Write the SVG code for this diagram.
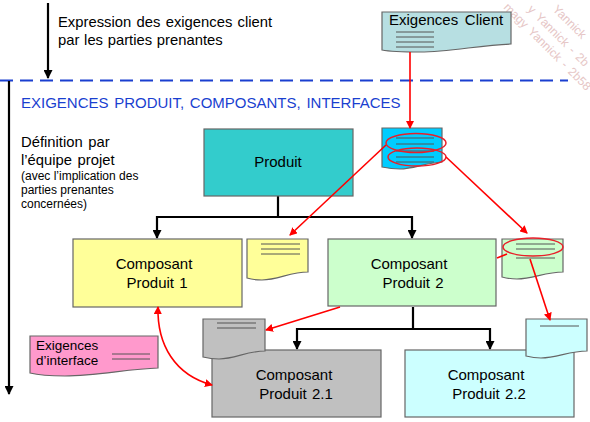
<svg xmlns="http://www.w3.org/2000/svg" width="590" height="422" viewBox="0 0 590 422">
<style>
text{font-family:"Liberation Sans",Arial,sans-serif;fill:#000}
.t{font-size:15px;text-anchor:middle;word-spacing:1px}
.b{stroke:#666;stroke-width:1.2}
.l{stroke:#555;stroke-width:1;fill:none}
.r{stroke:#f00;stroke-width:1.6;fill:none}
.k{stroke:#000;stroke-width:2.200;fill:none}
.o{stroke:#e8202a;stroke-width:1.5;fill:none}
.w{font-size:12px;word-spacing:2px;fill:#e6c6c6}
</style>
<defs>
<marker id="ra" markerUnits="userSpaceOnUse" markerWidth="8" markerHeight="8" refX="7" refY="4" orient="auto"><path d="M0 0L8 4L0 8z" fill="#f00"/></marker>
<marker id="rs" markerUnits="userSpaceOnUse" markerWidth="8" markerHeight="8" refX="7" refY="4" orient="auto-start-reverse"><path d="M0 0L8 4L0 8z" fill="#f00"/></marker>
<marker id="ka" markerUnits="userSpaceOnUse" markerWidth="9" markerHeight="9" refX="8" refY="4.5" orient="auto"><path d="M0 0L9 4.500L0 9z" fill="#000"/></marker>
</defs>
<g id="watermark">
<text class="w" transform="translate(503,8) rotate(45)">magy Yannick - 2b58</text>
<text class="w" transform="translate(527,10) rotate(45)">y Yannick - 2b</text>
<text class="w" transform="translate(552,10) rotate(45)">Yannick</text>
</g>
<g id="intro">
<path class="k" d="M48 3V78" marker-end="url(#ka)"/>
<text x="58" y="27" font-size="14.800" word-spacing="1.200">Expression des exigences client</text>
<text x="58" y="45" font-size="14.800" word-spacing="0.600">par les parties prenantes</text>
</g>
<g id="separator"><path d="M0 80.500H568" stroke="#1a3fd0" stroke-width="2.200" stroke-dasharray="13 7" fill="none"/></g>
<g id="phase">
<text x="21" y="108" font-size="15" word-spacing="1.500" style="fill:#1a3fd0">EXIGENCES PRODUIT, COMPOSANTS, INTERFACES</text>
<path class="k" d="M9 81V394" marker-end="url(#ka)"/>
<text x="21" y="147" font-size="14.800" word-spacing="1.500">Définition par</text>
<text x="21" y="165" font-size="14.800" word-spacing="1.500">l’équipe projet</text>
<text x="21" y="180" font-size="12">(avec l’implication des</text>
<text x="21" y="194" font-size="12">parties prenantes</text>
<text x="21" y="208" font-size="12">concernées)</text>
</g>
<g id="connectors-under">
<path class="k" d="M278 196V217H157V238" marker-end="url(#ka)"/>
<path class="k" d="M278 217H412V238" marker-end="url(#ka)"/>
<path class="k" d="M413 307V329H297V349" marker-end="url(#ka)"/>
<path class="k" d="M413 329H490V349" marker-end="url(#ka)"/>
</g>
<g id="produit"><rect class="b" x="204" y="129" width="149" height="67" fill="#33cccc"/><text class="t" x="278" y="167">Produit</text></g>
<g id="composant1"><rect class="b" x="73" y="239" width="169" height="68" fill="#ffff99"/><text class="t" x="154" y="269">Composant</text><text class="t" x="157" y="288">Produit 1</text></g>
<g id="composant2"><rect class="b" x="328" y="239" width="168" height="67" fill="#ccffcc"/><text class="t" x="409" y="269">Composant</text><text class="t" x="413" y="288">Produit 2</text></g>
<g id="composant21"><rect class="b" x="212" y="350" width="169" height="67" fill="#c0c0c0"/><text class="t" x="294" y="380">Composant</text><text class="t" x="296" y="399">Produit 2.1</text></g>
<g id="composant22"><rect class="b" x="405" y="350" width="169" height="67" fill="#ccffff"/><text class="t" x="486" y="380">Composant</text><text class="t" x="489" y="399">Produit 2.2</text></g>
<g id="doc-client"><path class="b" fill="#b7dfe2" d="M382 12H511V44C480 45 450 52 420 52C405 52 392 52 382 50z"/><text x="389" y="25" font-size="15" word-spacing="2.500">Exigences Client</text><path class="l" d="M396 32H434M396 37H434M396 42H434M396 47H434"/></g>
<g id="doc-produit"><path class="b" fill="#00ccff" d="M382 128H442V162C425 163 413 169 400 169C393 169 387 168 382 167z"/><path class="l" d="M396 138H434M396 144H434M396 151H434M396 157H434M396 162H434"/><ellipse class="o" cx="416" cy="143" rx="30" ry="9.500"/><ellipse class="o" cx="417" cy="157" rx="29" ry="9"/></g>
<g id="doc-c1"><path class="b" fill="#ffff99" d="M247 239H308V272C290 272 278 280 262 280C256 280 250 279 247 278z"/><path class="l" d="M261 244H300M261 249H300M261 254H300"/></g>
<g id="doc-c2"><path class="b" fill="#ccffcc" d="M502 239H563V272C545 272 533 279 517 279C511 279 506 278 502 277z"/><path class="l" d="M516 244H555M516 249H555M516 258H555"/><ellipse class="o" cx="533" cy="247" rx="30" ry="9"/></g>
<g id="doc-c21"><path class="b" fill="#c0c0c0" d="M203 319H265V351C247 351 235 359 219 359C213 359 207 358 203 357z"/><path class="l" d="M217 323H256M217 328H256"/></g>
<g id="doc-c22"><path class="b" fill="#ccffff" d="M526 319H587V351C569 351 557 358 541 358C535 358 530 357 526 356z"/><path class="l" d="M540 326H579"/></g>
<g id="doc-interface"><path class="b" fill="#ff99cc" d="M30 336H158V368C127 369 97 376 65 376C50 376 38 375 30 373z"/><text x="36" y="350" font-size="13.500">Exigences</text><text x="36" y="365" font-size="13.500">d’interface</text><path class="l" d="M112 354H150M112 359H150"/></g>
<g id="connectors-red">
<path class="r" d="M410 52V128" marker-end="url(#ra)"/>
<path class="r" d="M386 145L290 235" marker-end="url(#ra)"/>
<path class="r" d="M446 157L527 233" marker-end="url(#ra)"/>
<path class="r" d="M507 254L497 258"/>
<path class="r" d="M530 259L550 320" marker-end="url(#ra)"/>
<path class="r" d="M340 307L266 330" marker-end="url(#ra)"/>
<path class="r" d="M158 307C157 345 175 375 212 385" marker-start="url(#rs)" marker-end="url(#ra)"/>
</g>
</svg>
